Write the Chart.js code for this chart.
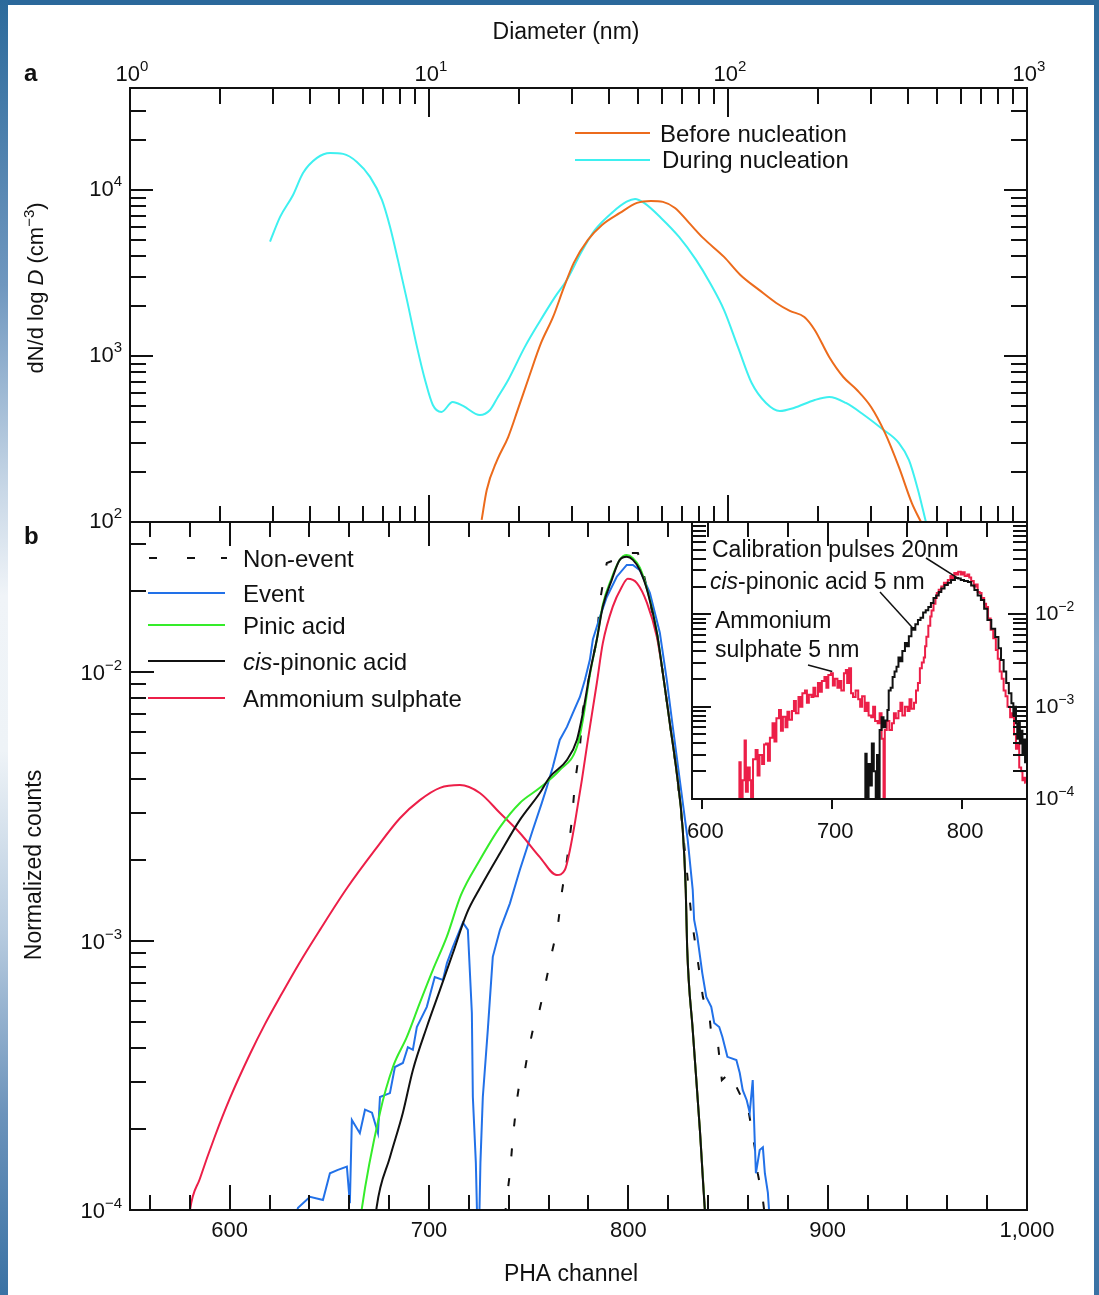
<!DOCTYPE html>
<html>
<head>
<meta charset="utf-8">
<script src="https://cdn.jsdelivr.net/npm/chart.js@4.4.1/dist/chart.umd.min.js"></script>
<style>
  html, body { margin: 0; padding: 0; background: #ffffff; }
  #page { position: relative; width: 1099px; height: 1295px; overflow: hidden; background: #ffffff; }
  #page canvas { position: absolute; left: 0; top: 0; }
  .band-top { position: absolute; left: 0; top: 0; width: 1099px; height: 5px; background: #2b689b; z-index: 5; }
  .band-left { position: absolute; left: 0; top: 0; width: 8px; height: 1295px; z-index: 5;
    background: linear-gradient(#2c6a9b 0%, #6f97bf 22%, #c9d8e7 38%, #f0f4f8 46%, #eef3f7 58%, #b7cbdf 72%, #6c93bb 86%, #3a72a4 100%); }
  .band-right { position: absolute; right: 0; top: 0; width: 5px; height: 1295px; z-index: 5;
    background: linear-gradient(#2c6a9b 0%, #5d8ab5 30%, #86a8c9 50%, #5d8ab5 75%, #3a72a4 100%); }
</style>
</head>
<body>
<div id="page">
  <canvas id="panelA" width="1099" height="1295"></canvas>
  <canvas id="panelB" width="1099" height="1295"></canvas>
  <canvas id="inset" width="1099" height="1295"></canvas>
  <div class="band-top"></div>
  <div class="band-left"></div>
  <div class="band-right"></div>
</div>
<script>
// ---------- Panel a: number size distributions ----------
const diamBefore = [15.0, 15.6, 16.9, 18.4, 19.8, 21.6, 23.7, 26.0, 28.3, 30.5, 34.0, 37.9, 43.5, 49.6, 55.2, 60.6, 66.5, 74.1, 82.5, 97.0, 110, 127, 145, 161, 180, 195, 218, 243, 270, 301, 335, 373, 412, 442];
const countsBefore = [103, 156, 236, 325, 473, 747, 1197, 1718, 2604, 3633, 5000, 6150, 7265, 8350, 8590, 8470, 7790, 6330, 5140, 3950, 3075, 2500, 2085, 1867, 1718, 1435, 986, 747, 624, 493, 344, 214, 130, 100];

const diamDuring = [2.94, 3.18, 3.51, 3.79, 4.22, 4.67, 5.16, 5.74, 6.35, 6.96, 7.41, 7.87, 8.44, 9.12, 9.70, 10.3, 11.0, 12.0, 13.0, 14.8, 16.0, 17.0, 18.4, 20.9, 23.3, 26.4, 28.9, 32.2, 35.9, 41.2, 45.8, 48.9, 52.4, 59.7, 68.6, 78.2, 87.1, 97.0, 108, 120, 134, 149, 166, 195, 218, 248, 285, 325, 373, 403, 432, 459];
const countsDuring = [4890, 6900, 9330, 12650, 15600, 16700, 16480, 14750, 11980, 8710, 5980, 3790, 2170, 1130, 717, 507, 460, 528, 500, 441, 473, 566, 717, 1130, 1580, 2270, 2870, 4170, 5740, 7370, 8500, 8830, 8350, 6780, 5210, 3790, 2750, 1890, 1130, 687, 521, 466, 486, 543, 566, 521, 441, 368, 299, 236, 156, 100];

// ---------- Panel b: pulse height spectra ----------
const chNonEvent = [738.1, 739.1, 740.6, 742.1, 744.1, 745.6, 748.1, 749.6, 752.1, 754.6, 758.1, 761.6, 764.6, 766.6, 769.2, 771.7, 773.2, 775.7, 777.2, 780.7, 784.2, 785.7, 788.2, 789.2, 793.2, 796.7, 800.7, 804.8, 807.3, 809.8, 814.3, 817.3, 820.8, 824.3, 827.3, 829.8, 831.8, 834.8, 837.4, 840.9, 841.9, 844.9, 846.9, 850.9, 856.9, 859.4, 863.4, 864.9, 867.5, 868.5];
const valNonEvent = [9.5e-5, 1.12e-4, 1.37e-4, 1.87e-4, 2.56e-4, 3.04e-4, 3.31e-4, 3.84e-4, 4.67e-4, 5.21e-4, 6.75e-4, 9.02e-4, 1.13e-3, 1.51e-3, 2.00e-3, 2.82e-3, 3.86e-3, 5.26e-3, 7.23e-3, 9.91e-3, 1.32e-2, 1.82e-2, 2.35e-2, 2.54e-2, 2.61e-2, 2.72e-2, 2.77e-2, 2.77e-2, 2.39e-2, 1.97e-2, 1.40e-2, 9.91e-3, 6.46e-3, 4.21e-3, 2.59e-3, 1.69e-3, 1.20e-3, 8.49e-4, 6.19e-4, 5.08e-4, 4.29e-4, 4.18e-4, 3.04e-4, 3.23e-4, 2.61e-4, 2.56e-4, 1.71e-4, 1.37e-4, 1.09e-4, 9.5e-5];

const chEvent = [632.0, 634.3, 640.3, 646.8, 650.3, 654.3, 658.8, 660.3, 661.3, 665.3, 667.9, 671.4, 674.4, 675.4, 680.4, 682.9, 686.9, 689.4, 691.9, 693.9, 698.9, 702.9, 707.0, 709.0, 712.0, 717.0, 719.5, 721.5, 722.0, 723.5, 724.2, 725.2, 725.8, 727.0, 729.5, 732.0, 735.6, 740.6, 744.1, 745.6, 752.1, 756.6, 759.1, 762.1, 765.6, 769.2, 772.2, 775.7, 778.2, 780.7, 782.2, 785.7, 789.2, 794.2, 799.2, 802.3, 805.8, 810.8, 815.8, 819.3, 822.3, 825.8, 829.8, 832.3, 833.0, 834.6, 837.1, 839.1, 841.6, 843.1, 845.6, 847.2, 849.7, 854.2, 855.9, 857.4, 859.4, 860.9, 862.4, 863.4, 864.0, 865.9, 867.5, 868.5, 870.0, 871.0];
const valEvent = [9e-5, 1.02e-4, 1.12e-4, 1.09e-4, 1.37e-4, 1.41e-4, 1.45e-4, 1.06e-4, 2.16e-4, 1.93e-4, 2.36e-4, 2.30e-4, 1.93e-4, 2.63e-4, 2.72e-4, 3.40e-4, 3.52e-4, 4.03e-4, 3.94e-4, 4.79e-4, 5.69e-4, 7.35e-4, 7.16e-4, 8.28e-4, 9.51e-4, 1.17e-3, 1.10e-3, 5.40e-4, 2.63e-4, 1.50e-4, 9e-5, 9e-5, 1.50e-4, 2.63e-4, 4.67e-4, 8.73e-4, 1.10e-3, 1.38e-3, 1.69e-3, 1.84e-3, 2.59e-3, 3.26e-3, 3.73e-3, 4.43e-3, 5.59e-3, 6.25e-3, 7.05e-3, 8.07e-3, 9.33e-3, 1.11e-2, 1.32e-2, 1.60e-2, 1.90e-2, 2.26e-2, 2.50e-2, 2.50e-2, 2.39e-2, 1.97e-2, 1.40e-2, 9.33e-3, 6.25e-3, 3.97e-3, 2.37e-3, 1.55e-3, 1.20e-3, 1.04e-3, 7.60e-4, 6.19e-4, 5.69e-4, 4.96e-4, 4.79e-4, 4.40e-4, 3.71e-4, 3.61e-4, 3.23e-4, 2.79e-4, 2.56e-4, 2.30e-4, 3.04e-4, 1.82e-4, 1.37e-4, 1.67e-4, 1.71e-4, 1.37e-4, 1.16e-4, 9e-5];

const chPinic = [665.5, 666.2, 675.4, 681.9, 688.9, 695.4, 701.9, 709.0, 716.0, 725.5, 735.6, 745.6, 755.6, 765.6, 774.2, 777.2, 780.7, 784.2, 787.2, 791.7, 795.7, 799.2, 802.3, 805.8, 809.8, 814.3, 817.3, 820.8, 824.3, 827.3, 828.8, 829.5, 832.3, 835.9, 838.4];
const valPinic = [9e-5, 1.0e-4, 2.30e-4, 3.40e-4, 4.40e-4, 5.89e-4, 7.80e-4, 1.04e-3, 1.48e-3, 2.00e-3, 2.65e-3, 3.26e-3, 3.71e-3, 4.32e-3, 5.26e-3, 6.63e-3, 9.75e-3, 1.32e-2, 1.78e-2, 2.24e-2, 2.61e-2, 2.72e-2, 2.65e-2, 2.44e-2, 1.98e-2, 1.41e-2, 9.91e-3, 6.46e-3, 4.21e-3, 2.59e-3, 1.55e-3, 9.5e-4, 4.67e-4, 1.98e-4, 1.0e-4];

const chPinonic = [673.0, 673.7, 680.4, 686.9, 691.9, 698.9, 705.5, 712.0, 719.0, 725.5, 735.6, 745.6, 755.6, 760.6, 769.2, 774.2, 777.2, 780.7, 784.2, 787.2, 791.7, 795.7, 799.2, 802.3, 805.8, 809.8, 814.3, 817.3, 820.8, 824.3, 827.3, 828.8, 829.5, 832.3, 835.9, 838.4, 839.0];
const valPinonic = [9e-5, 1.02e-4, 1.57e-4, 2.30e-4, 3.31e-4, 4.79e-4, 6.58e-4, 9.02e-4, 1.27e-3, 1.57e-3, 2.12e-3, 2.82e-3, 3.55e-3, 4.07e-3, 4.71e-3, 5.59e-3, 7.05e-3, 9.91e-3, 1.32e-2, 1.75e-2, 2.20e-2, 2.61e-2, 2.68e-2, 2.61e-2, 2.39e-2, 1.97e-2, 1.40e-2, 9.91e-3, 6.46e-3, 4.21e-3, 2.59e-3, 1.55e-3, 9.5e-4, 4.67e-4, 1.98e-4, 1.0e-4, 9e-5];

const chSulphate = [579.5, 580.1, 585.1, 592.6, 600.2, 610.2, 617.7, 625.2, 635.3, 645.3, 658.8, 672.9, 685.4, 695.4, 705.5, 715.5, 725.5, 735.6, 745.6, 755.6, 764.1, 768.2, 770.7, 773.2, 776.7, 779.7, 784.2, 787.2, 792.2, 796.7, 799.7, 804.3, 809.3, 814.3, 817.3, 820.8, 824.3, 827.3, 828.8, 829.5, 832.3, 835.9, 838.4];
const valSulphate = [9e-5, 1.00e-4, 1.31e-4, 1.88e-4, 2.61e-4, 3.80e-4, 4.91e-4, 6.19e-4, 8.36e-4, 1.10e-3, 1.57e-3, 2.18e-3, 2.86e-3, 3.34e-3, 3.71e-3, 3.80e-3, 3.55e-3, 2.99e-3, 2.52e-3, 2.05e-3, 1.76e-3, 1.84e-3, 2.18e-3, 2.75e-3, 3.97e-3, 5.59e-3, 9.10e-3, 1.28e-2, 1.75e-2, 2.07e-2, 2.22e-2, 2.14e-2, 1.81e-2, 1.35e-2, 9.91e-3, 6.46e-3, 4.21e-3, 2.59e-3, 1.55e-3, 9.5e-4, 4.67e-4, 1.98e-4, 1.0e-4];

// ---------- Inset: 5 nm test particles ----------
const chInsetSulphate = [628, 629, 630, 632, 633, 634, 636, 637, 638, 640, 642, 643, 645, 647, 648, 650, 651, 653, 655, 656, 658, 660, 661, 663, 665, 666, 668, 670, 671, 673, 675, 676, 678, 680, 681, 683, 685, 686, 688, 690, 691, 693, 695, 696, 698, 700, 701, 703, 705, 706, 708, 710, 711, 712, 714, 715, 717, 719, 721, 722, 724, 726, 727, 729, 731, 732, 734, 736, 737, 739, 740, 741, 743, 745, 747, 748, 750, 752, 753, 755, 757, 759, 760, 762, 764, 765, 767, 768, 770, 771, 772, 773, 775, 776, 777, 779, 780, 781, 783, 785, 787, 788, 790, 792, 793, 795, 796, 798, 800, 801, 803, 805, 806, 808, 810, 811, 813, 814, 816, 818, 819, 821, 823, 825, 827, 828, 830, 831, 833, 834, 836, 838, 839, 841, 842, 843, 845, 846, 847, 848, 849];
const valInsetSulphate = [9e-5, 2.5e-4, 9e-5, 1.6e-4, 4.3e-4, 1.2e-4, 2.2e-4, 1.6e-4, 9e-5, 2.7e-4, 3.4e-4, 1.8e-4, 3.0e-4, 2.4e-4, 3.9e-4, 4.0e-4, 2.6e-4, 4.6e-4, 6.6e-4, 4.2e-4, 7.5e-4, 9.2e-4, 5.5e-4, 7.8e-4, 6.0e-4, 8.8e-4, 7.2e-4, 9.0e-4, 1.15e-3, 8.5e-4, 1.27e-3, 1.0e-3, 1.4e-3, 1.5e-3, 1.1e-3, 1.35e-3, 1.27e-3, 1.6e-3, 1.3e-3, 1.8e-3, 1.45e-3, 1.9e-3, 2.1e-3, 1.6e-3, 2.2e-3, 2.3e-3, 1.7e-3, 2.0e-3, 1.6e-3, 1.9e-3, 1.5e-3, 2.3e-3, 2.5e-3, 1.8e-3, 2.6e-3, 1.4e-3, 1.27e-3, 1.5e-3, 1.2e-3, 1.0e-3, 1.3e-3, 9.0e-4, 1.1e-3, 8.0e-4, 7.7e-4, 1.0e-3, 7.0e-4, 6.6e-4, 8.5e-4, 4.5e-4, 9e-5, 5.6e-4, 7.0e-4, 5.6e-4, 6.6e-4, 8.5e-4, 7.5e-4, 9.0e-4, 1.1e-3, 8.0e-4, 1.0e-3, 9.0e-4, 1.2e-3, 9.5e-4, 1.1e-3, 1.5e-3, 1.8e-3, 2.6e-3, 3.0e-3, 3.4e-3, 4.5e-3, 5.7e-3, 7.5e-3, 9.5e-3, 1.1e-2, 1.3e-2, 1.5e-2, 1.7e-2, 1.85e-2, 2.0e-2, 2.2e-2, 2.1e-2, 2.36e-2, 2.6e-2, 2.45e-2, 2.8e-2, 2.7e-2, 2.9e-2, 2.7e-2, 2.85e-2, 2.6e-2, 2.7e-2, 2.5e-2, 2.3e-2, 2.0e-2, 2.1e-2, 1.75e-2, 1.7e-2, 1.5e-2, 1.3e-2, 1.2e-2, 9.0e-3, 6.8e-3, 5.5e-3, 4.1e-3, 3.3e-3, 2.4e-3, 2.0e-3, 1.5e-3, 1.3e-3, 1.0e-3, 7.7e-4, 8.5e-4, 5.0e-4, 3.5e-4, 4.0e-4, 2.2e-4, 2.0e-4, 1.6e-4, 1.7e-4, 1.5e-4];

const chInsetPinonic = [725, 726, 727, 729, 730, 731, 733, 734, 735, 736, 737, 739, 740, 742, 743, 744, 746, 747, 749, 750, 752, 753, 755, 757, 758, 760, 762, 763, 765, 767, 769, 771, 773, 775, 777, 779, 781, 783, 785, 788, 790, 793, 796, 798, 800, 803, 806, 808, 811, 813, 816, 818, 821, 824, 827, 829, 831, 833, 835, 837, 839, 840, 841, 842, 843, 844, 845, 846, 847, 848, 849, 850];
const valInsetPinonic = [9e-5, 3.1e-4, 9e-5, 2.4e-4, 1.4e-4, 4.0e-4, 2.0e-4, 9e-5, 3.0e-4, 9e-5, 5.6e-4, 7.7e-4, 6.0e-4, 7.1e-4, 9.2e-4, 1.5e-3, 1.6e-3, 2.1e-3, 2.4e-3, 2.7e-3, 3.4e-3, 3.1e-3, 4.0e-3, 4.9e-3, 4.5e-3, 5.8e-3, 7.1e-3, 6.8e-3, 7.8e-3, 8.7e-3, 9.2e-3, 1.05e-2, 1.11e-2, 1.2e-2, 1.33e-2, 1.5e-2, 1.6e-2, 1.74e-2, 1.9e-2, 2.08e-2, 2.2e-2, 2.35e-2, 2.47e-2, 2.45e-2, 2.36e-2, 2.3e-2, 2.24e-2, 2.05e-2, 1.83e-2, 1.6e-2, 1.43e-2, 1.15e-2, 8.7e-3, 7.0e-3, 5.67e-3, 4.3e-3, 3.2e-3, 2.4e-3, 1.8e-3, 1.4e-3, 1.09e-3, 8.0e-4, 1.0e-3, 6.6e-4, 4.5e-4, 7.0e-4, 4.0e-4, 5.5e-4, 3.0e-4, 4.4e-4, 2.5e-4, 3.0e-4];

// ---------- Axis tick labels ----------
const diamTickValues = [1, 10, 100, 1000];
const diamTickExps = ['0', '1', '2', '3'];
const concTickValues = [100, 1000, 10000];
const concTickExps = ['2', '3', '4'];
const phaTickValues = [600, 700, 800, 900, 1000];
const phaTickLabels = ['600', '700', '800', '900', '1,000'];
const countTickValues = [1e-4, 1e-3, 1e-2];
const countTickExps = ['\u22124', '\u22123', '\u22122'];
const insetChTickValues = [600, 700, 800];
const insetChTickLabels = ['600', '700', '800'];

// ---------- Colours ----------
const COL = {
  before: '#ec6b1c', during: '#3ef0f0',
  nonEvent: '#111111', event: '#2271e8', pinic: '#35ec2a', pinonic: '#111111', sulphate: '#ec1f48'
};
const FAMILY = '"Liberation Sans", Arial, Helvetica, sans-serif';
const fnt = (px, style) => (style ? style + ' ' : '') + px + 'px ' + FAMILY;
const pts = (xs, ys) => xs.map((x, i) => ({ x, y: ys[i] }));

// ---------- Drawing helpers ----------
function seg(ctx, x1, y1, x2, y2) {
  ctx.beginPath(); ctx.moveTo(x1, y1); ctx.lineTo(x2, y2); ctx.stroke();
}
function rich(ctx, parts, x, y, align) {
  let w = 0;
  parts.forEach(p => { ctx.font = fnt(p.size, p.style); p.w = ctx.measureText(p.t).width; w += p.w; });
  let cx = align === 'center' ? x - w / 2 : align === 'right' ? x - w : x;
  ctx.textAlign = 'left'; ctx.textBaseline = 'alphabetic';
  parts.forEach(p => { ctx.font = fnt(p.size, p.style); ctx.fillText(p.t, cx, y + (p.dy || 0)); cx += p.w; });
}
function pow10Label(ctx, exp, x, y, align, size) {
  rich(ctx, [{ t: '10', size }, { t: exp, size: Math.round(size * 0.68), dy: -Math.round(size * 0.45) }], x, y, align);
}
function logTickList(lo, hi) {
  const out = [];
  const e0 = Math.floor(Math.log10(lo)), e1 = Math.ceil(Math.log10(hi));
  for (let e = e0; e <= e1; e++) {
    for (let m = 1; m <= 9; m++) {
      const v = m * Math.pow(10, e);
      if (v >= lo * 0.999 && v <= hi * 1.001) out.push({ v, major: m === 1 });
    }
  }
  return out;
}
function legendLine(ctx, x1, x2, y, color, dash) {
  ctx.save(); ctx.strokeStyle = color; ctx.lineWidth = 2;
  if (dash) ctx.setLineDash(dash);
  seg(ctx, x1, y, x2, y); ctx.restore();
}

function baseOptions(xScale, yScale, padding) {
  return {
    responsive: false, maintainAspectRatio: false, animation: false, devicePixelRatio: 1,
    layout: { padding },
    plugins: { legend: { display: false }, tooltip: { enabled: false }, title: { display: false } },
    elements: { point: { radius: 0 }, line: { borderWidth: 2, tension: 0 } },
    scales: { x: Object.assign({ display: false }, xScale), y: Object.assign({ display: false }, yScale) },
    events: []
  };
}

// ---------- Panel a ----------
const panelAPlugin = {
  id: 'panelAAxes',
  afterDraw(chart) {
    const { ctx, chartArea: a } = chart;
    const xs = chart.scales.x, ys = chart.scales.y;
    ctx.save();
    ctx.strokeStyle = '#111'; ctx.fillStyle = '#111'; ctx.lineWidth = 2;
    ctx.strokeRect(a.left, a.top, a.right - a.left, a.bottom - a.top);
    logTickList(xs.min, xs.max).forEach(t => {
      const px = Math.round(xs.getPixelForValue(t.v));
      if (px < a.left + 3 || px > a.right - 3) return;
      seg(ctx, px, a.top, px, a.top + (t.major ? 29 : 16));
      seg(ctx, px, a.bottom, px, a.bottom - (t.major ? 27 : 16));
    });
    logTickList(ys.min, ys.max).forEach(t => {
      const py = Math.round(ys.getPixelForValue(t.v));
      if (py < a.top + 3 || py > a.bottom - 3) return;
      const len = t.major ? 23 : 16;
      seg(ctx, a.left, py, a.left + len, py);
      seg(ctx, a.right, py, a.right - len, py);
    });
    diamTickValues.forEach((v, i) => pow10Label(ctx, diamTickExps[i], xs.getPixelForValue(v) + 2, 81, 'center', 22));
    concTickValues.forEach((v, i) => pow10Label(ctx, concTickExps[i], 122, ys.getPixelForValue(v) + 6, 'right', 22));

    ctx.font = fnt(23); ctx.textAlign = 'center'; ctx.textBaseline = 'alphabetic';
    ctx.fillText('Diameter (nm)', 566, 39);
    ctx.save();
    ctx.translate(43, 288); ctx.rotate(-Math.PI / 2);
    rich(ctx, [{ t: 'dN/d log ', size: 22 }, { t: 'D', size: 22, style: 'italic' }, { t: ' (cm', size: 22 },
               { t: '\u22123', size: 15, dy: -9 }, { t: ')', size: 22 }], 0, 0, 'center');
    ctx.restore();
    ctx.font = fnt(24, 'bold'); ctx.textAlign = 'left';
    ctx.fillText('a', 24, 81);

    legendLine(ctx, 575, 650, 133, COL.before);
    legendLine(ctx, 575, 650, 160, COL.during);
    ctx.fillStyle = '#111'; ctx.font = fnt(24); ctx.textAlign = 'left';
    ctx.fillText('Before nucleation', 660, 142);
    ctx.fillText('During nucleation', 662, 168);
    ctx.restore();
  }
};

new Chart(document.getElementById('panelA'), {
  type: 'line',
  data: {
    datasets: [
      { label: 'Before nucleation', data: pts(diamBefore, countsBefore), borderColor: COL.before, borderWidth: 2, cubicInterpolationMode: 'monotone' },
      { label: 'During nucleation', data: pts(diamDuring, countsDuring), borderColor: COL.during, borderWidth: 2, cubicInterpolationMode: 'monotone' }
    ]
  },
  options: baseOptions(
    { type: 'logarithmic', min: 1, max: 1000 },
    { type: 'logarithmic', min: 100, max: 41100 },
    { left: 130, top: 88, right: 72, bottom: 773 }),
  plugins: [panelAPlugin]
});

// ---------- Panel b ----------
const panelBPlugin = {
  id: 'panelBAxes',
  afterDraw(chart) {
    const { ctx, chartArea: a } = chart;
    const xs = chart.scales.x, ys = chart.scales.y;
    ctx.save();
    ctx.strokeStyle = '#111'; ctx.fillStyle = '#111'; ctx.lineWidth = 2;
    ctx.strokeRect(a.left, a.top, a.right - a.left, a.bottom - a.top);
    for (let v = 560; v < 1000; v += 20) {
      const px = Math.round(xs.getPixelForValue(v));
      const major = v % 100 === 0;
      seg(ctx, px, a.top, px, a.top + (major ? 24 : 15));
      seg(ctx, px, a.bottom, px, a.bottom - (major ? 25 : 15));
    }
    logTickList(ys.min, ys.max).forEach(t => {
      const py = Math.round(ys.getPixelForValue(t.v));
      if (py < a.top + 3 || py > a.bottom - 3) return;
      seg(ctx, a.left, py, a.left + (t.major ? 24 : 16), py);
    });
    ctx.font = fnt(22); ctx.textAlign = 'center'; ctx.textBaseline = 'alphabetic';
    phaTickValues.forEach((v, i) => ctx.fillText(phaTickLabels[i], xs.getPixelForValue(v), 1237));
    countTickValues.forEach((v, i) => pow10Label(ctx, countTickExps[i], 122, ys.getPixelForValue(v) + 8, 'right', 22));

    ctx.font = fnt(23); ctx.textAlign = 'center';
    ctx.fillText('PHA channel', 571, 1281);
    ctx.save();
    ctx.translate(41, 865); ctx.rotate(-Math.PI / 2);
    ctx.font = fnt(23); ctx.textAlign = 'center';
    ctx.fillText('Normalized counts', 0, 0);
    ctx.restore();
    ctx.font = fnt(24, 'bold'); ctx.textAlign = 'left';
    ctx.fillText('b', 24, 544);

    // legend
    [[149, 157], [187, 195], [221, 227]].forEach(d => legendLine(ctx, d[0], d[1], 558, COL.nonEvent));
    legendLine(ctx, 148, 225, 593, COL.event);
    legendLine(ctx, 148, 225, 625, COL.pinic);
    legendLine(ctx, 148, 225, 661, COL.pinonic);
    legendLine(ctx, 148, 225, 698, COL.sulphate);
    ctx.fillStyle = '#111'; ctx.font = fnt(24); ctx.textAlign = 'left';
    ctx.fillText('Non-event', 243, 567);
    ctx.fillText('Event', 243, 602);
    ctx.fillText('Pinic acid', 243, 634);
    rich(ctx, [{ t: 'cis', size: 24, style: 'italic' }, { t: '-pinonic acid', size: 24 }], 243, 670, 'left');
    ctx.fillText('Ammonium sulphate', 243, 707);
    ctx.restore();
  }
};

new Chart(document.getElementById('panelB'), {
  type: 'line',
  data: {
    datasets: [
      { label: 'cis-pinonic acid', data: pts(chPinonic, valPinonic), borderColor: COL.pinonic, borderWidth: 2, cubicInterpolationMode: 'monotone' },
      { label: 'Pinic acid', data: pts(chPinic, valPinic), borderColor: COL.pinic, borderWidth: 2, cubicInterpolationMode: 'monotone' },
      { label: 'Ammonium sulphate', data: pts(chSulphate, valSulphate), borderColor: COL.sulphate, borderWidth: 2, cubicInterpolationMode: 'monotone' },
      { label: 'Event', data: pts(chEvent, valEvent), borderColor: COL.event, borderWidth: 2 },
      { label: 'Non-event', data: pts(chNonEvent, valNonEvent), borderColor: COL.nonEvent, borderWidth: 2, borderDash: [8, 22] }
    ]
  },
  options: baseOptions(
    { type: 'linear', min: 550, max: 1000 },
    { type: 'logarithmic', min: 1e-4, max: 0.0361 },
    { left: 130, top: 522, right: 72, bottom: 85 }),
  plugins: [panelBPlugin]
});

// ---------- Inset ----------
const insetNotes = [
  { from: [926, 558], to: [797, 0.0245] },
  { from: [880, 592], to: [762, 0.0071] },
  { from: [808, 665], to: [700, 0.0024] }
];
const insetPlugin = {
  id: 'insetAxes',
  afterDraw(chart) {
    const { ctx, chartArea: a } = chart;
    const xs = chart.scales.x, ys = chart.scales.y;
    ctx.save();
    ctx.strokeStyle = '#111'; ctx.fillStyle = '#111'; ctx.lineWidth = 2;
    ctx.strokeRect(a.left, a.top, a.right - a.left, a.bottom - a.top);
    logTickList(ys.min, ys.max).forEach(t => {
      const py = Math.round(ys.getPixelForValue(t.v));
      if (py < a.top + 3 || py > a.bottom - 3) return;
      const len = t.major ? 19 : 14;
      seg(ctx, a.left, py, a.left + len, py);
      seg(ctx, a.right, py, a.right - len, py);
    });
    insetChTickValues.forEach(v => {
      const px = Math.round(xs.getPixelForValue(v));
      seg(ctx, px, a.bottom, px, a.bottom + 10);
    });
    ctx.font = fnt(22); ctx.textAlign = 'center'; ctx.textBaseline = 'alphabetic';
    insetChTickValues.forEach((v, i) => ctx.fillText(insetChTickLabels[i], xs.getPixelForValue(v) + 3, 838));
    countTickValues.forEach((v, i) => pow10Label(ctx, countTickExps[i], 1035, ys.getPixelForValue(v) + 6, 'left', 21));

    ctx.lineWidth = 1.5;
    insetNotes.forEach(n => seg(ctx, n.from[0], n.from[1], xs.getPixelForValue(n.to[0]), ys.getPixelForValue(n.to[1])));

    ctx.font = fnt(23); ctx.textAlign = 'left';
    ctx.fillText('Calibration pulses 20nm', 712, 557);
    rich(ctx, [{ t: 'cis', size: 23, style: 'italic' }, { t: '-pinonic acid 5 nm', size: 23 }], 710, 589, 'left');
    ctx.font = fnt(23);
    ctx.fillText('Ammonium', 715, 628);
    ctx.fillText('sulphate 5 nm', 715, 657);
    ctx.restore();
  }
};

new Chart(document.getElementById('inset'), {
  type: 'line',
  data: {
    datasets: [
      { label: 'cis-pinonic acid 5 nm', data: pts(chInsetPinonic, valInsetPinonic), borderColor: COL.pinonic, borderWidth: 2, stepped: 'middle' },
      { label: 'Ammonium sulphate 5 nm', data: pts(chInsetSulphate, valInsetSulphate), borderColor: COL.sulphate, borderWidth: 2, stepped: 'middle' }
    ]
  },
  options: baseOptions(
    { type: 'linear', min: 592, max: 850 },
    { type: 'logarithmic', min: 1e-4, max: 0.1 },
    { left: 692, top: 522, right: 72, bottom: 496 }),
  plugins: [insetPlugin]
});
</script>
</body>
</html>
